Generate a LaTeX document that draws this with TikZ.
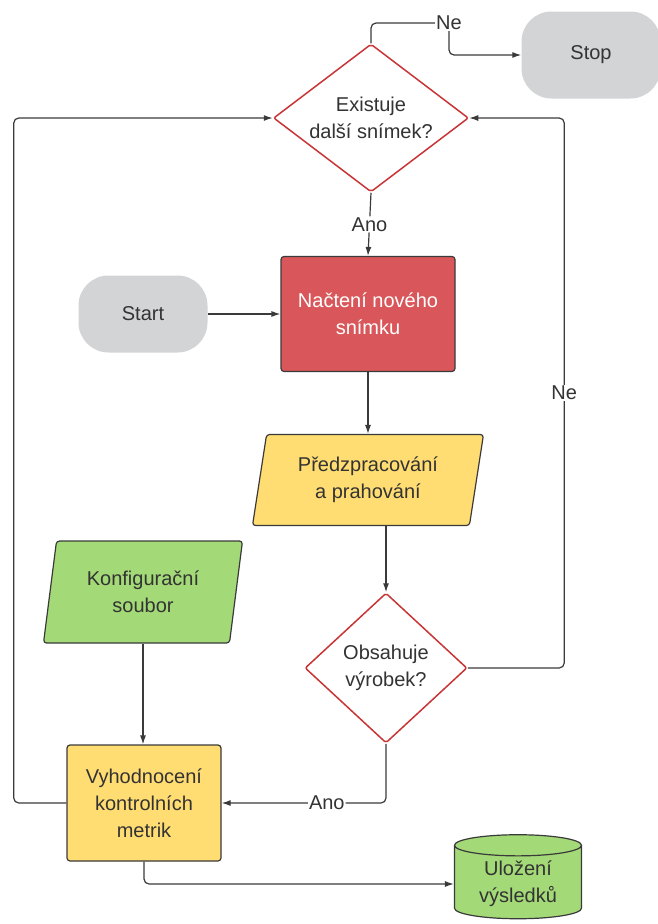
\documentclass[tikz,border=0pt]{standalone}
\usepackage{fontspec}
\setmainfont{Liberation Sans}
\usepackage{tikz}
\usetikzlibrary{positioning,shapes.geometric,arrows.meta}

\definecolor{sediva}{HTML}{D3D4D6}
\definecolor{cervena}{HTML}{D9575A}
\definecolor{cervenaokraj}{HTML}{C93436}
\definecolor{zluta}{HTML}{FFDD72}
\definecolor{zelena}{HTML}{A3D977}
\definecolor{okraj}{HTML}{3A3A3A}
\definecolor{textseda}{HTML}{333333}

\tikzset{
	txt/.style={font=\fontsize{20}{27}\selectfont, text=textseda, align=center},
	terminal/.style={txt, rectangle, rounded corners=30pt, fill=sediva},
	proces/.style={txt, rectangle, draw=okraj, line width=1.2pt, rounded corners=3pt},
	rozhod/.style={txt, diamond, draw=cervenaokraj, fill=white, line width=1.5pt, inner sep=-8pt, rounded corners=2pt},
	vstup/.style={txt, trapezium, trapezium left angle=75, trapezium right angle=105, trapezium stretches body, draw=okraj, line width=1.2pt, rounded corners=3pt},
	spoj/.style={-{Latex[length=9pt,width=6pt]}, draw=okraj, line width=1.2pt, rounded corners=5pt},
	popis/.style={txt, fill=white, inner sep=1pt},
}

\begin{document}
\begin{tikzpicture}[x=1pt,y=-1pt]
	\useasboundingbox (0,0) rectangle (658,924);
	% uzly
	\node[rozhod, minimum width=195, minimum height=148] (existuje) at (371,118) {Existuje\\další snímek?};
	\node[terminal, minimum width=139, minimum height=87] (stop) at (591,55) {Stop};
	\node[terminal, minimum width=129, minimum height=77] (start) at (143,314) {Start};
	\node[proces, fill=cervena, text=white, minimum width=174, minimum height=115] (nacteni) at (368,314) {Načtení nového\\snímku};
	\node[vstup, fill=zluta, minimum width=231, minimum height=91] (predzprac) at (368,480) {Předzpracování\\a prahování};
	\node[rozhod, minimum width=162, minimum height=150] (obsahuje) at (386,668) {Obsahuje\\výrobek?};
	\node[vstup, fill=zelena, minimum width=199, minimum height=102] (konfig) at (143,592) {Konfigurační\\soubor};
	\node[proces, fill=zluta, minimum width=154, minimum height=116] (vyhodnoceni) at (144,803) {Vyhodnocení\\kontrolních\\metrik};
	\node[txt, cylinder, shape border rotate=90, aspect=0.25, draw=okraj, line width=1.2pt, fill=zelena, minimum width=127, minimum height=84] (ulozeni) at (518,884) {Uložení\\výsledků};
	\coordinate (ne1) at (449,23);
	% spoje
	\draw[spoj] (existuje.north) |- (ne1) node[popis] {Ne} |- (stop.west);
	\draw[spoj] (existuje.south) -- node[popis] {Ano} (nacteni.north);
	\draw[spoj] (start) -- (nacteni);
	\draw[spoj] (nacteni) -- (predzprac);
	\draw[spoj] (predzprac.south -| obsahuje.north) -- (obsahuje.north);
	\draw[spoj] (obsahuje.east) -| node[popis, pos=0.75] {Ne} ([xshift=95pt]existuje.east) -- (existuje.east);
	\draw[spoj] (obsahuje.south) |- node[popis, pos=0.68] {Ano} (vyhodnoceni.east);
	\draw[spoj] (konfig.south) -- (konfig.south |- vyhodnoceni.north);
	\draw[spoj] (vyhodnoceni.west) -| ([xshift=-259pt]existuje.west) -- (existuje.west);
	\draw[spoj] (vyhodnoceni.south) |- (ulozeni.west);
\end{tikzpicture}
\end{document}
